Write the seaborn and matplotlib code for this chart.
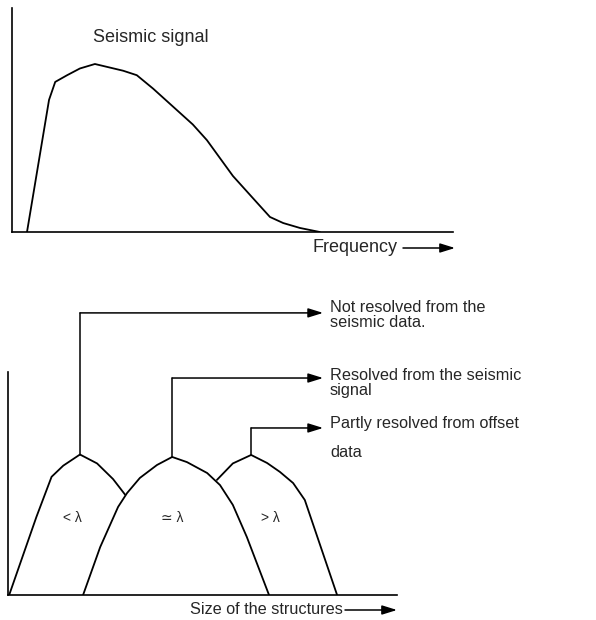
import matplotlib
matplotlib.use("Agg")
import matplotlib.pyplot as plt
import matplotlib.transforms as mtransforms
import seaborn as sns
import pandas as pd

# top panel: seismic signal spectrum (frequency / amplitude, arbitrary units)
signal_freq = [3.4, 8.4, 9.8, 12.5, 15.4, 18.8, 25.2, 28.3, 32.0, 36.5,
               41.0, 44.2, 50.1, 55.6, 58.5, 61.5, 65.3, 69.8]
signal_amp = [0.0, 0.59, 0.67, 0.70, 0.73, 0.75, 0.72, 0.70, 0.64, 0.56,
              0.48, 0.41, 0.25, 0.13, 0.067, 0.04, 0.018, 0.0]

# bottom panel: three structure-size classes (visible parts only)
small_size = [0.3, 7.3, 11.2, 14.2, 18.5, 22.9, 27.0, 30.1]
small_amp = [0.0, 0.35, 0.53, 0.58, 0.63, 0.59, 0.52, 0.45]

mid_size = [19.3, 23.7, 28.3, 30.6, 33.9, 38.3, 42.2, 46.0, 51.2, 54.5,
            57.8, 61.4, 67.1]
mid_amp = [0.0, 0.215, 0.395, 0.457, 0.525, 0.583, 0.619, 0.596, 0.547,
           0.493, 0.404, 0.26, 0.0]

large_size = [53.7, 57.8, 62.5, 66.6, 69.9, 73.3, 76.3, 84.6]
large_amp = [0.516, 0.59, 0.628, 0.592, 0.552, 0.502, 0.426, 0.0]

size_labels = ["< λ", "≃ λ", "> λ"]
callouts = ["Not resolved from the\nseismic data.",
            "Resolved from the seismic\nsignal",
            "Partly resolved from offset\n\ndata"]

W, H = 596, 620

sns.set_style("white")
plt.rcParams["font.family"] = ["Liberation Sans", "DejaVu Sans"]

fig = plt.figure(figsize=(W / 100, H / 100), dpi=100)
px = mtransforms.Affine2D().scale(1 / W, -1 / H).translate(0, 1) + fig.transFigure


def make_axes(left, right, top, bottom):
    ax = fig.add_axes([left / W, 1 - bottom / H, (right - left) / W, (bottom - top) / H])
    ax.set_xlim(0, 100)
    ax.set_ylim(0, 1)
    for side in ["top", "right"]:
        ax.spines[side].set_visible(False)
    for side in ["left", "bottom"]:
        ax.spines[side].set_color("black")
        ax.spines[side].set_linewidth(1.2)
    ax.set_xticks([])
    ax.set_yticks([])
    ax.patch.set_alpha(0)
    return ax


def arrow(x0, x1, y, coords):
    fig.add_artist(plt.Annotation(
        "", xy=(x1, y), xytext=(x0, y), xycoords=coords, textcoords=coords,
        arrowprops=dict(arrowstyle="-|>,head_length=0.9,head_width=0.28",
                        color="black", lw=1.1, shrinkA=0, shrinkB=0)))


# ---- top panel
ax1 = make_axes(12, 453, 8, 232)
top_df = pd.DataFrame({"freq": signal_freq, "amp": signal_amp})
sns.lineplot(data=top_df, x="freq", y="amp", ax=ax1, color="black",
             sort=False, estimator=None, linewidth=1.3)
ax1.set_xlabel("")
ax1.set_ylabel("")
fig.text(93, 38, "Seismic signal", transform=px, fontsize=13, va="center")
fig.text(313, 248, "Frequency", transform=px, fontsize=13, va="center")
arrow(403, 455, 248, px)

# ---- bottom panel
ax2 = make_axes(8, 397, 372, 595)
curves = [(small_size, small_amp), (mid_size, mid_amp), (large_size, large_amp)]
for xs, ys in curves:
    sns.lineplot(x=xs, y=ys, ax=ax2, color="black", sort=False,
                 estimator=None, linewidth=1.3)
ax2.set_xlabel("")
ax2.set_ylabel("")

label_x = [72, 172, 270]
for lbl, lx in zip(size_labels, label_x):
    fig.text(lx, 518, lbl, transform=px, fontsize=10, ha="center", va="center")

# leader lines from each peak
level_y = [1.265, 0.973, 0.749]
tip_x = 81.0
for (xs, ys), ly in zip(curves, level_y):
    i = ys.index(max(ys))
    ax2.plot([xs[i], xs[i]], [ys[i], ly], color="black", lw=1.1, clip_on=False)
    arrow(xs[i], tip_x, ly, ax2.transData)

text_y = [315, 383, 438]
for txt, ty in zip(callouts, text_y):
    fig.text(330, ty, txt, transform=px, fontsize=11.7, va="center",
             linespacing=0.95)

fig.text(190, 610, "Size of the structures", transform=px, fontsize=11.7, va="center")
arrow(345, 397, 610, px)

fig.savefig("out.png", dpi=100)
